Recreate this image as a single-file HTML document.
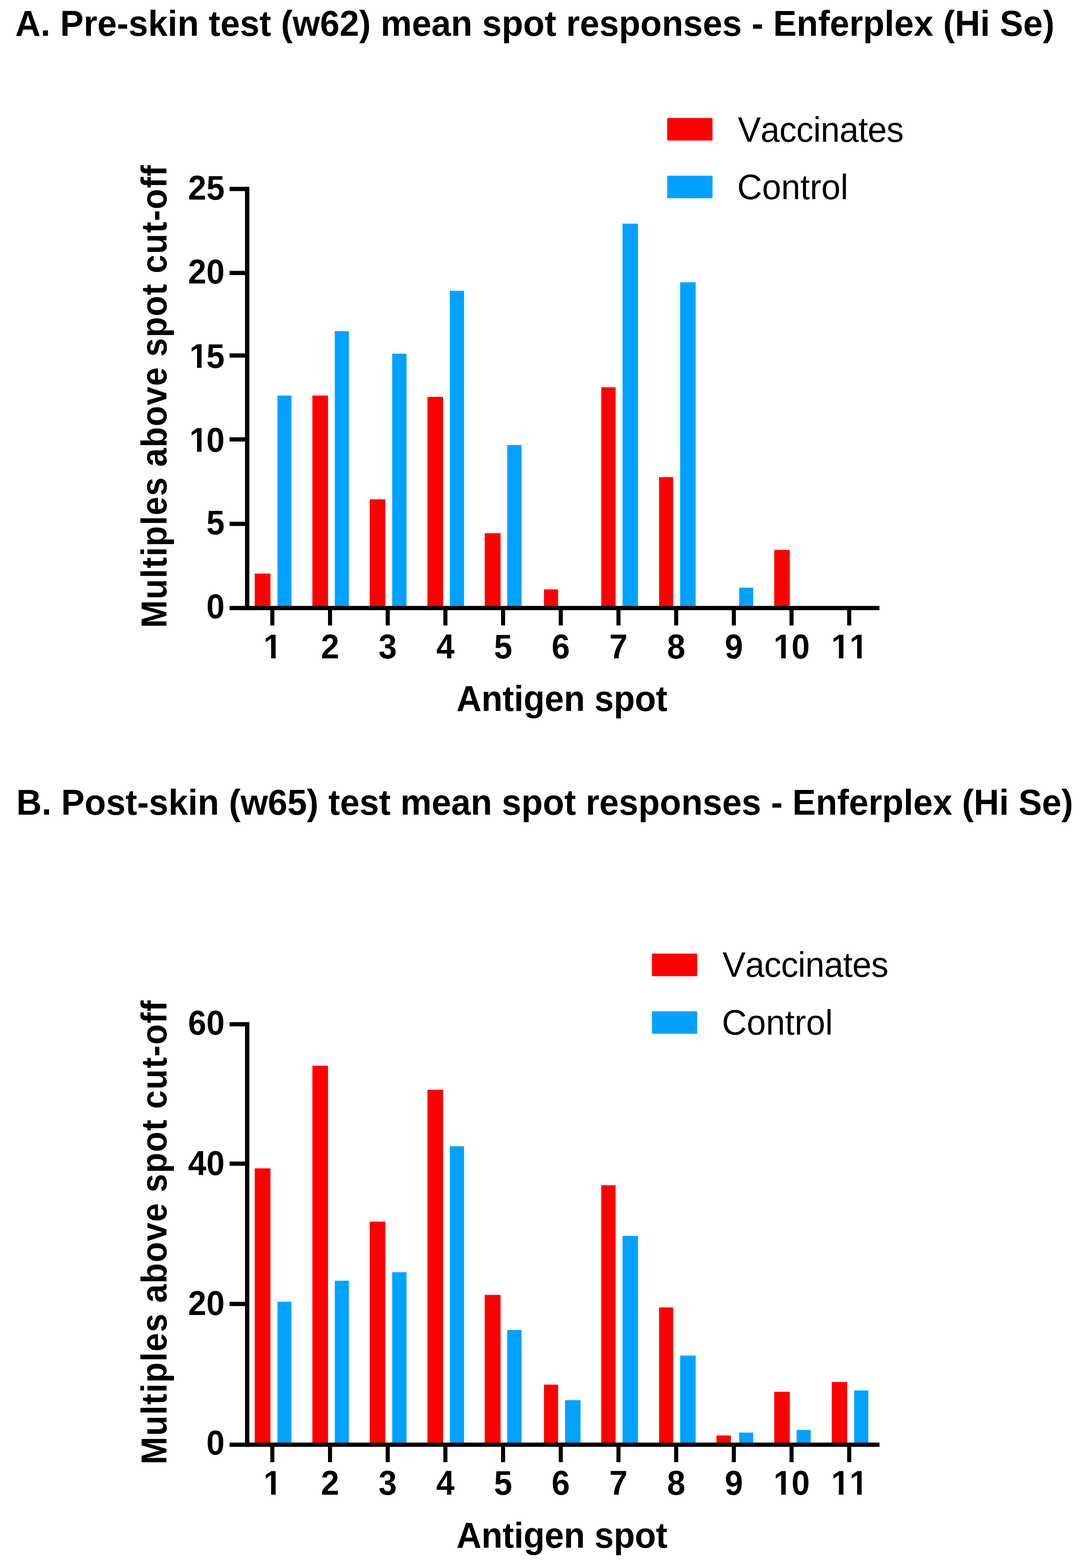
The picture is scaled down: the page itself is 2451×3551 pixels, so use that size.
<!DOCTYPE html>
<html lang="en">
<head>
<meta charset="utf-8">
<title>Enferplex mean spot responses</title>
<style>
html,body{margin:0;padding:0;background:#fff;}
body{width:2451px;height:3551px;overflow:hidden;}
svg{display:block;}
svg text{font-family:"Liberation Sans",sans-serif;fill:#000;font-kerning:none;}
</style>
</head>
<body>
<svg width="2451" height="3551" viewBox="0 0 2451 3551">
<rect x="0" y="0" width="2451" height="3551" fill="#ffffff"/>
<g id="figure">
<g id="chart-a">
<text transform="translate(34.6,80.5) scale(1,1.02)" font-size="79.5" font-weight="bold" textLength="2354" lengthAdjust="spacing">A. Pre-skin test (w62) mean spot responses - Enferplex (Hi Se)</text>
<rect x="577.0" y="1298.9" width="35.7" height="78.1" fill="#ff0000"/>
<rect x="707.6" y="895.8" width="35.4" height="481.2" fill="#ff0000"/>
<rect x="837.6" y="1130.8" width="35.4" height="246.2" fill="#ff0000"/>
<rect x="968.2" y="898.9" width="35.6" height="478.1" fill="#ff0000"/>
<rect x="1098.1" y="1207.5" width="35.8" height="169.5" fill="#ff0000"/>
<rect x="1232.2" y="1334.7" width="32.0" height="42.3" fill="#ff0000"/>
<rect x="1362.0" y="877.1" width="32.5" height="499.9" fill="#ff0000"/>
<rect x="1493.0" y="1080.5" width="32.0" height="296.5" fill="#ff0000"/>
<rect x="1753.8" y="1245.4" width="35.2" height="131.6" fill="#ff0000"/>
<rect x="628.5" y="895.8" width="31.8" height="481.2" fill="#00a2ff"/>
<rect x="758.4" y="750.1" width="31.9" height="626.9" fill="#00a2ff"/>
<rect x="888.4" y="800.9" width="32.4" height="576.1" fill="#00a2ff"/>
<rect x="1019.0" y="658.5" width="32.2" height="718.5" fill="#00a2ff"/>
<rect x="1149.0" y="1007.9" width="32.5" height="369.1" fill="#00a2ff"/>
<rect x="1410.2" y="506.5" width="35.1" height="870.5" fill="#00a2ff"/>
<rect x="1540.7" y="639.3" width="35.1" height="737.7" fill="#00a2ff"/>
<rect x="1674.4" y="1331.0" width="31.8" height="46.0" fill="#00a2ff"/>
<rect x="555" y="423.1" width="9.8" height="958.7" fill="#000"/>
<rect x="520" y="1372.2" width="1472.2" height="9.6" fill="#000"/>
<rect x="520" y="423.1" width="40" height="9.6" fill="#000"/>
<text transform="translate(426.04,452.00) scale(1,1.045)" x="0.00 41.38" y="0" font-size="74.4" font-weight="bold">25</text>
<rect x="520" y="613.4" width="40" height="9.6" fill="#000"/>
<text transform="translate(426.04,642.00) scale(1,1.045)" x="0.00 41.38" y="0" font-size="74.4" font-weight="bold">20</text>
<rect x="520" y="800.3" width="40" height="9.6" fill="#000"/>
<text transform="translate(426.04,832.60) scale(1,1.045)" x="3.00 41.38" y="0" font-size="74.4" font-weight="bold">15</text>
<rect x="432.73" y="824.07" width="13.68" height="9.53" fill="#fff"/>
<rect x="456.62" y="824.07" width="12.73" height="9.53" fill="#fff"/>
<rect x="520" y="990.3" width="40" height="9.6" fill="#000"/>
<text transform="translate(426.04,1022.60) scale(1,1.045)" x="3.00 41.38" y="0" font-size="74.4" font-weight="bold">10</text>
<rect x="432.73" y="1014.07" width="13.68" height="9.53" fill="#fff"/>
<rect x="456.62" y="1014.07" width="12.73" height="9.53" fill="#fff"/>
<rect x="520" y="1181.6" width="40" height="9.6" fill="#000"/>
<text transform="translate(467.42,1209.80) scale(1,1.045)" x="0.00" y="0" font-size="74.4" font-weight="bold">5</text>
<text transform="translate(467.42,1400.10) scale(1,1.045)" x="0.00" y="0" font-size="74.4" font-weight="bold">0</text>
<rect x="612.3" y="1377.0" width="9.2" height="39.5" fill="#000"/>
<text transform="translate(596.21,1490.70) scale(1,1.045)" x="0.60" y="0" font-size="74.4" font-weight="bold">1</text>
<rect x="600.50" y="1482.17" width="13.68" height="9.53" fill="#fff"/>
<rect x="624.38" y="1482.17" width="12.73" height="9.53" fill="#fff"/>
<rect x="743.0" y="1377.0" width="9.2" height="39.5" fill="#000"/>
<text transform="translate(726.89,1490.70) scale(1,1.045)" x="0.00" y="0" font-size="74.4" font-weight="bold">2</text>
<rect x="873.7" y="1377.0" width="9.2" height="39.5" fill="#000"/>
<text transform="translate(857.57,1490.70) scale(1,1.045)" x="0.00" y="0" font-size="74.4" font-weight="bold">3</text>
<rect x="1004.3" y="1377.0" width="9.2" height="39.5" fill="#000"/>
<text transform="translate(988.25,1490.70) scale(1,1.045)" x="0.00" y="0" font-size="74.4" font-weight="bold">4</text>
<rect x="1135.0" y="1377.0" width="9.2" height="39.5" fill="#000"/>
<text transform="translate(1118.93,1490.70) scale(1,1.045)" x="0.00" y="0" font-size="74.4" font-weight="bold">5</text>
<rect x="1265.7" y="1377.0" width="9.2" height="39.5" fill="#000"/>
<text transform="translate(1249.61,1490.70) scale(1,1.045)" x="0.00" y="0" font-size="74.4" font-weight="bold">6</text>
<rect x="1396.4" y="1377.0" width="9.2" height="39.5" fill="#000"/>
<text transform="translate(1380.29,1490.70) scale(1,1.045)" x="0.00" y="0" font-size="74.4" font-weight="bold">7</text>
<rect x="1527.1" y="1377.0" width="9.2" height="39.5" fill="#000"/>
<text transform="translate(1510.97,1490.70) scale(1,1.045)" x="0.00" y="0" font-size="74.4" font-weight="bold">8</text>
<rect x="1657.7" y="1377.0" width="9.2" height="39.5" fill="#000"/>
<text transform="translate(1641.65,1490.70) scale(1,1.045)" x="0.00" y="0" font-size="74.4" font-weight="bold">9</text>
<rect x="1788.4" y="1377.0" width="9.2" height="39.5" fill="#000"/>
<text transform="translate(1751.64,1490.70) scale(1,1.045)" x="0.60 41.38" y="0" font-size="74.4" font-weight="bold">10</text>
<rect x="1755.93" y="1482.17" width="13.68" height="9.53" fill="#fff"/>
<rect x="1779.82" y="1482.17" width="12.73" height="9.53" fill="#fff"/>
<rect x="1919.1" y="1377.0" width="9.2" height="39.5" fill="#000"/>
<text transform="translate(1882.32,1490.70) scale(1,1.045)" x="0.60 41.98" y="0" font-size="74.4" font-weight="bold">11</text>
<rect x="1886.61" y="1482.17" width="13.68" height="9.53" fill="#fff"/>
<rect x="1910.50" y="1482.17" width="12.73" height="9.53" fill="#fff"/>
<rect x="1927.99" y="1482.17" width="13.68" height="9.53" fill="#fff"/>
<rect x="1951.87" y="1482.17" width="12.73" height="9.53" fill="#fff"/>
<text transform="translate(1034,1610.4) scale(1,1.035)" font-size="78.5" font-weight="bold" textLength="478" lengthAdjust="spacing">Antigen spot</text>
<text transform="translate(377.3,1421.9) rotate(-90) scale(1,1.07)" font-size="75.5" font-weight="bold" textLength="1047.8" lengthAdjust="spacing">Multiples above spot cut-off</text>
<rect x="1511.4" y="267.3" width="102.6" height="51" fill="#ff0000"/>
<rect x="1511.4" y="397.9" width="102.6" height="51" fill="#00a2ff"/>
<text transform="translate(1671.4,320.6) scale(1,1.03)" font-size="78" textLength="375.8" lengthAdjust="spacing">Vaccinates</text>
<text transform="translate(1669.9,450.9) scale(1,1.03)" font-size="78" textLength="251.4" lengthAdjust="spacing">Control</text>
</g>
<g id="chart-b">
<text transform="translate(37,1845.1) scale(1,1.02)" font-size="79.5" font-weight="bold" textLength="2394" lengthAdjust="spacing">B. Post-skin (w65) test mean spot responses - Enferplex (Hi Se)</text>
<rect x="577.0" y="2645.9" width="35.7" height="625.9" fill="#ff0000"/>
<rect x="707.6" y="2413.5" width="35.4" height="858.3" fill="#ff0000"/>
<rect x="837.6" y="2766.5" width="35.4" height="505.3" fill="#ff0000"/>
<rect x="968.2" y="2468.0" width="35.6" height="803.8" fill="#ff0000"/>
<rect x="1098.1" y="2932.5" width="35.8" height="339.3" fill="#ff0000"/>
<rect x="1232.2" y="3135.7" width="32.0" height="136.1" fill="#ff0000"/>
<rect x="1362.0" y="2684.2" width="32.5" height="587.6" fill="#ff0000"/>
<rect x="1493.0" y="2960.9" width="32.0" height="310.9" fill="#ff0000"/>
<rect x="1623.0" y="3250.8" width="32.6" height="21.0" fill="#ff0000"/>
<rect x="1753.8" y="3151.9" width="35.2" height="119.9" fill="#ff0000"/>
<rect x="1884.2" y="3129.7" width="35.0" height="142.1" fill="#ff0000"/>
<rect x="628.5" y="2948.1" width="31.8" height="323.7" fill="#00a2ff"/>
<rect x="758.4" y="2900.4" width="31.9" height="371.4" fill="#00a2ff"/>
<rect x="888.4" y="2881.2" width="32.4" height="390.6" fill="#00a2ff"/>
<rect x="1019.0" y="2595.9" width="32.2" height="675.9" fill="#00a2ff"/>
<rect x="1149.0" y="3012.0" width="32.5" height="259.8" fill="#00a2ff"/>
<rect x="1280.1" y="3171.0" width="34.9" height="100.8" fill="#00a2ff"/>
<rect x="1410.2" y="2798.9" width="35.1" height="472.9" fill="#00a2ff"/>
<rect x="1540.7" y="3069.9" width="35.1" height="201.9" fill="#00a2ff"/>
<rect x="1674.4" y="3244.4" width="31.8" height="27.4" fill="#00a2ff"/>
<rect x="1804.5" y="3238.3" width="32.0" height="33.5" fill="#00a2ff"/>
<rect x="1935.0" y="3148.9" width="32.0" height="122.9" fill="#00a2ff"/>
<rect x="555" y="2314.8" width="9.8" height="961.8" fill="#000"/>
<rect x="520" y="3267.0" width="1472.2" height="9.6" fill="#000"/>
<rect x="520" y="2314.8" width="40" height="9.6" fill="#000"/>
<text transform="translate(426.04,2342.50) scale(1,1.045)" x="0.00 41.38" y="0" font-size="74.4" font-weight="bold">60</text>
<rect x="520" y="2630.5" width="40" height="9.6" fill="#000"/>
<text transform="translate(426.04,2660.50) scale(1,1.045)" x="0.00 41.38" y="0" font-size="74.4" font-weight="bold">40</text>
<rect x="520" y="2948.2" width="40" height="9.6" fill="#000"/>
<text transform="translate(426.04,2977.50) scale(1,1.045)" x="0.00 41.38" y="0" font-size="74.4" font-weight="bold">20</text>
<text transform="translate(467.42,3294.20) scale(1,1.045)" x="0.00" y="0" font-size="74.4" font-weight="bold">0</text>
<rect x="612.3" y="3271.8" width="9.2" height="39.5" fill="#000"/>
<text transform="translate(596.21,3385.30) scale(1,1.045)" x="0.60" y="0" font-size="74.4" font-weight="bold">1</text>
<rect x="600.50" y="3376.77" width="13.68" height="9.53" fill="#fff"/>
<rect x="624.38" y="3376.77" width="12.73" height="9.53" fill="#fff"/>
<rect x="743.0" y="3271.8" width="9.2" height="39.5" fill="#000"/>
<text transform="translate(726.89,3385.30) scale(1,1.045)" x="0.00" y="0" font-size="74.4" font-weight="bold">2</text>
<rect x="873.7" y="3271.8" width="9.2" height="39.5" fill="#000"/>
<text transform="translate(857.57,3385.30) scale(1,1.045)" x="0.00" y="0" font-size="74.4" font-weight="bold">3</text>
<rect x="1004.3" y="3271.8" width="9.2" height="39.5" fill="#000"/>
<text transform="translate(988.25,3385.30) scale(1,1.045)" x="0.00" y="0" font-size="74.4" font-weight="bold">4</text>
<rect x="1135.0" y="3271.8" width="9.2" height="39.5" fill="#000"/>
<text transform="translate(1118.93,3385.30) scale(1,1.045)" x="0.00" y="0" font-size="74.4" font-weight="bold">5</text>
<rect x="1265.7" y="3271.8" width="9.2" height="39.5" fill="#000"/>
<text transform="translate(1249.61,3385.30) scale(1,1.045)" x="0.00" y="0" font-size="74.4" font-weight="bold">6</text>
<rect x="1396.4" y="3271.8" width="9.2" height="39.5" fill="#000"/>
<text transform="translate(1380.29,3385.30) scale(1,1.045)" x="0.00" y="0" font-size="74.4" font-weight="bold">7</text>
<rect x="1527.1" y="3271.8" width="9.2" height="39.5" fill="#000"/>
<text transform="translate(1510.97,3385.30) scale(1,1.045)" x="0.00" y="0" font-size="74.4" font-weight="bold">8</text>
<rect x="1657.7" y="3271.8" width="9.2" height="39.5" fill="#000"/>
<text transform="translate(1641.65,3385.30) scale(1,1.045)" x="0.00" y="0" font-size="74.4" font-weight="bold">9</text>
<rect x="1788.4" y="3271.8" width="9.2" height="39.5" fill="#000"/>
<text transform="translate(1751.64,3385.30) scale(1,1.045)" x="0.60 41.38" y="0" font-size="74.4" font-weight="bold">10</text>
<rect x="1755.93" y="3376.77" width="13.68" height="9.53" fill="#fff"/>
<rect x="1779.82" y="3376.77" width="12.73" height="9.53" fill="#fff"/>
<rect x="1919.1" y="3271.8" width="9.2" height="39.5" fill="#000"/>
<text transform="translate(1882.32,3385.30) scale(1,1.045)" x="0.60 41.98" y="0" font-size="74.4" font-weight="bold">11</text>
<rect x="1886.61" y="3376.77" width="13.68" height="9.53" fill="#fff"/>
<rect x="1910.50" y="3376.77" width="12.73" height="9.53" fill="#fff"/>
<rect x="1927.99" y="3376.77" width="13.68" height="9.53" fill="#fff"/>
<rect x="1951.87" y="3376.77" width="12.73" height="9.53" fill="#fff"/>
<text transform="translate(1034,3505.3) scale(1,1.035)" font-size="78.5" font-weight="bold" textLength="478" lengthAdjust="spacing">Antigen spot</text>
<text transform="translate(377.3,3316.5) rotate(-90) scale(1,1.07)" font-size="75.5" font-weight="bold" textLength="1050.8" lengthAdjust="spacing">Multiples above spot cut-off</text>
<rect x="1476.8" y="2159.6" width="102.6" height="51" fill="#ff0000"/>
<rect x="1476.8" y="2290.2" width="102.6" height="51" fill="#00a2ff"/>
<text transform="translate(1636.8,2212.3) scale(1,1.03)" font-size="78" textLength="375.8" lengthAdjust="spacing">Vaccinates</text>
<text transform="translate(1635.3,2342.6) scale(1,1.03)" font-size="78" textLength="251.4" lengthAdjust="spacing">Control</text>
</g>
</g>
</svg>
</body>
</html>
